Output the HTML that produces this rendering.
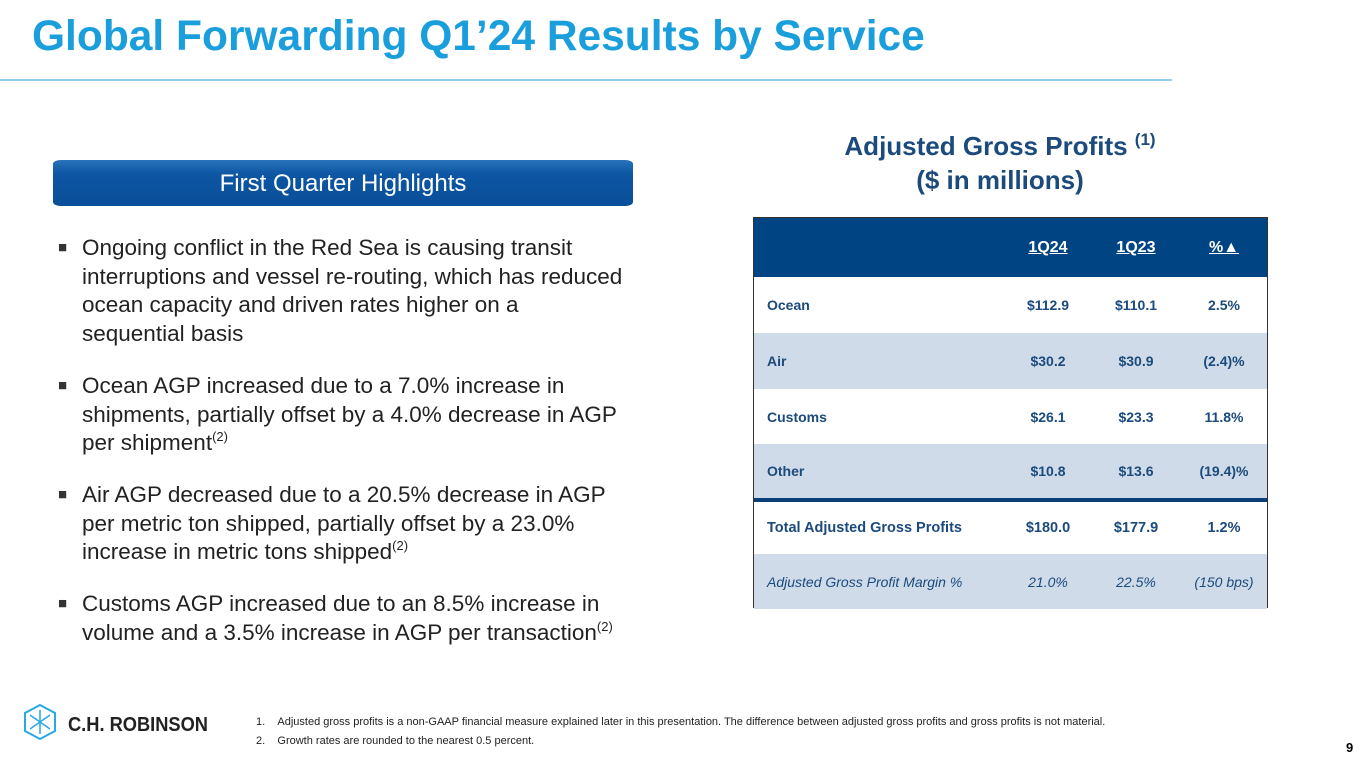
<!DOCTYPE html>
<html><head><meta charset="utf-8"><style>
body{margin:0;width:1365px;height:768px;background:#fff;font-family:"Liberation Sans",sans-serif;position:relative;overflow:hidden}
.abs{position:absolute}
#title{left:32px;top:13px;font-size:42.5px;font-weight:bold;color:#1a9fdc;white-space:nowrap}
#rule{left:0;top:79px;width:1172px;height:2px;background:#8fd0ee}
#banner{left:53px;top:160px;width:580px;height:46px;background:linear-gradient(#2a72bb,#0d56a3 30%,#0a4f99);border-radius:8px/4px;color:#fff;font-size:24px;text-align:center;line-height:48px}
.bul{left:58px;width:580px;font-size:22.5px;line-height:28.7px;color:#222}
.bul p{margin:0;padding-left:24px;position:relative}
.bul p:before{content:"■";position:absolute;left:0;font-size:15px;top:0;color:#333}
sup{font-size:13px;line-height:0;vertical-align:9px}
#head{left:800px;width:400px;top:129px;text-align:center;font-size:26px;font-weight:bold;color:#1b4a7d;line-height:34px}
#tbl{left:753px;top:217px;width:515px;height:391px;border:1px solid #333;box-sizing:border-box}
.row{position:absolute;left:0;width:100%;font-size:14px;font-weight:bold;color:#1b4a7d}
.row span{position:absolute;top:50%;transform:translate(-50%,-50%);white-space:nowrap}
.row span.l{left:13px;transform:translateY(-50%)}
.foot{left:256px;font-size:11px;color:#222}
</style></head><body>
<div id="title" class="abs">Global Forwarding Q1’24 Results by Service</div>
<div id="rule" class="abs"></div>
<div id="banner" class="abs">First Quarter Highlights</div>
<div class="abs bul" style="top:234px">
<p style="margin-bottom:23px">Ongoing conflict in the Red Sea is causing transit interruptions and vessel re-routing, which has reduced ocean capacity and driven rates higher on a<br>sequential basis</p>
<p style="margin-bottom:23px">Ocean AGP increased due to a 7.0% increase in<br>shipments, partially offset by a 4.0% decrease in AGP per shipment<sup>(2)</sup></p>
<p style="margin-bottom:23px">Air AGP decreased due to a 20.5% decrease in AGP per metric ton shipped, partially offset by a 23.0%<br>increase in metric tons shipped<sup>(2)</sup></p>
<p>Customs AGP increased due to an 8.5% increase in<br>volume and a 3.5% increase in AGP per transaction<sup>(2)</sup></p>
</div>
<div id="head" class="abs">Adjusted Gross Profits <sup style="font-size:17px;vertical-align:10px">(1)</sup><br>($ in millions)</div>
<div id="tbl" class="abs"></div>
<div class="abs" style="left:22px;top:704px">
<svg width="200" height="36" viewBox="0 0 200 36"><polygon points="18,1 33,9 33,27 18,35 3,27 3,9" fill="none" stroke="#29a9e0" stroke-width="2"/><path d="M8,11 L28,25 M28,11 L8,25 M18,6 V30" stroke="#29a9e0" stroke-width="1.5" fill="none"/><text x="46" y="27" font-family="Liberation Sans Narrow,Liberation Sans" font-size="20" font-weight="bold" fill="#222" textLength="140" lengthAdjust="spacingAndGlyphs">C.H. ROBINSON</text></svg></div>
<div class="abs foot" style="top:716px">1.&nbsp;&nbsp;&nbsp;&nbsp;Adjusted gross profits is a non-GAAP financial measure explained later in this presentation. The difference between adjusted gross profits and gross profits is not material.</div>
<div class="abs foot" style="top:735px">2.&nbsp;&nbsp;&nbsp;&nbsp;Growth rates are rounded to the nearest 0.5 percent.</div>
<div class="abs" style="left:1346px;top:740px;font-size:13px;font-weight:bold">9</div>
<script>
const labels=["Ocean","Air","Customs","Other","Total Adjusted Gross Profits","Adjusted Gross Profit Margin %"];
const q24=["$112.9","$30.2","$26.1","$10.8","$180.0","21.0%"];
const q23=["$110.1","$30.9","$23.3","$13.6","$177.9","22.5%"];
const chg=["2.5%","(2.4)%","11.8%","(19.4)%","1.2%","(150 bps)"];
const headers=["1Q24","1Q23","%▲"];
const t=document.getElementById('tbl');
const cols=[294,382,470];
const tops=[59,115,171,226,283,336],hs=[56,56,55,54,53,55];
const h=document.createElement('div');h.className='row';


h.style.cssText='top:0;height:59px;background:#004483;color:#fff;font-size:16px';
headers.forEach((x,i)=>{const s=document.createElement('span');s.textContent=x;s.style.left=cols[i]+'px';s.style.textDecoration='underline';h.appendChild(s);});
t.appendChild(h);
labels.forEach((lb,i)=>{const r=document.createElement('div');r.className='row';


r.style.top=tops[i]+'px';r.style.height=hs[i]+'px';r.style.background=(i%2)?'#cfdbe8':'#fff';
if(i==5){r.style.fontWeight='normal';r.style.fontStyle='italic';}
if(i==4)r.style.fontSize='14.5px';
const vals=[lb,q24[i],q23[i],chg[i]];
vals.forEach((v,j)=>{const s=document.createElement('span');s.textContent=v;if(j==0)s.className='l';else s.style.left=cols[j-1]+'px';r.appendChild(s);});
t.appendChild(r);});
const sep=document.createElement('div');


sep.style.cssText='position:absolute;left:0;width:100%;top:280px;height:4px;background:#0b3f78';
t.appendChild(sep);
</script>
</body></html>
